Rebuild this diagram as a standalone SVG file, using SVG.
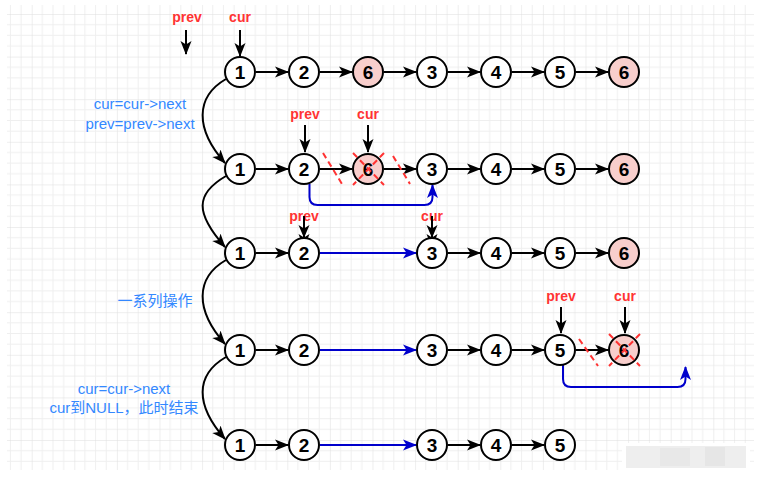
<svg xmlns="http://www.w3.org/2000/svg" width="776" height="481" viewBox="0 0 776 481">
<style>
.n circle{fill:#fff;stroke:#000;stroke-width:2}
.n.p circle{fill:#f8cecc}
.n text{font-family:"Liberation Sans",Arial,sans-serif;font-size:19px;font-weight:bold;text-anchor:middle;fill:#000}
.lbl{font-family:"Liberation Sans",Arial,sans-serif;font-size:14px;font-weight:bold;text-anchor:middle;fill:#ff3333}
.note{font-family:"Liberation Sans",Arial,"Noto Sans CJK SC",sans-serif;font-size:15px;text-anchor:middle;fill:#3388ff}
.e{fill:none;stroke:#000;stroke-width:2;marker-end:url(#ah)}
.b{fill:none;stroke:#0000cc;stroke-width:2;marker-end:url(#bh)}
.x{fill:none;stroke:#ff3333;stroke-width:2;stroke-dasharray:6 4}
</style>
<defs>
<marker id="ah" markerUnits="userSpaceOnUse" markerWidth="14" markerHeight="12" viewBox="0 0 14 12" refX="13" refY="6" orient="auto">
<path d="M0,0.5 L14,6 L0,11.5 L3.5,6 Z" fill="#000"/>
</marker>
<marker id="bh" markerUnits="userSpaceOnUse" markerWidth="14" markerHeight="12" viewBox="0 0 14 12" refX="13" refY="6" orient="auto">
<path d="M0,0.5 L14,6 L0,11.5 L3.5,6 Z" fill="#0000cc"/>
</marker>
<pattern id="grid" patternUnits="userSpaceOnUse" x="-10.9" y="-28.6" width="42.6" height="42.6">
<path d="M10.65,0V42.6M21.3,0V42.6M31.95,0V42.6M0,10.65H42.6M0,21.3H42.6M0,31.95H42.6" stroke="#efefef" stroke-width="1" fill="none"/>
<path d="M0,0V42.6M0,0H42.6" stroke="#dedede" stroke-width="1" fill="none"/>
</pattern>
</defs>
<rect width="776" height="481" fill="#fff"/>
<rect x="7" y="5" width="747" height="465" fill="url(#grid)"/>
<rect x="622" y="443" width="128" height="27" fill="#fff"/>
<rect x="626" y="446" width="120" height="22" fill="#eeeeee"/>
<rect x="660" y="448" width="30" height="18" fill="#e8e8e8"/>
<rect x="705" y="447" width="20" height="19" fill="#e6e6e6"/>

<g id="labels">
<text class="lbl" x="187" y="22">prev</text>
<text class="lbl" x="240" y="22">cur</text>
<text class="lbl" x="305" y="119">prev</text>
<text class="lbl" x="368" y="119">cur</text>
<text class="lbl" x="304" y="221">prev</text>
<text class="lbl" x="432" y="221">cur</text>
<text class="lbl" x="561" y="301">prev</text>
<text class="lbl" x="625" y="301">cur</text>
<text class="note" x="140" y="109">cur=cur-&gt;next</text>
<text class="note" x="140" y="129">prev=prev-&gt;next</text>
<text class="note" x="155" y="306">一系列操作</text>
<text class="note" x="124" y="394">cur=cur-&gt;next</text>
<text class="note" x="124" y="413">cur到NULL，此时结束</text>
</g>

<g id="connectors">
<path class="e" d="M186,30V54"/>
<path class="e" d="M240,30V56"/>
<path class="e" d="M305,125V152"/>
<path class="e" d="M368,125V152"/>
<path class="e" d="M304,216V247"/>
<path d="M304,238 L298.5,225 L304,228.5 L309.5,225 Z" fill="#000"/>
<path class="e" d="M432,216V247"/>
<path d="M432,238 L426.5,225 L432,228.5 L437.5,225 Z" fill="#000"/>
<path class="e" d="M561,307V333"/>
<path class="e" d="M625,307V333"/>
<path class="e" d="M226,79 C195,97 195,129 225,163"/>
<path class="e" d="M226,176 C195,194 195,213 225,247"/>
<path class="e" d="M226,260 C195,278 195,310 225,344"/>
<path class="e" d="M226,357 C195,375 195,405 225,439"/>
<path class="e" d="M256,72H288"/>
<path class="e" d="M320,72H352"/>
<path class="e" d="M384,72H416"/>
<path class="e" d="M448,72H480"/>
<path class="e" d="M512,72H544"/>
<path class="e" d="M576,72H608"/>
<path class="e" d="M256,169H288"/>
<path class="e" d="M320,169H352"/>
<path class="e" d="M384,169H416"/>
<path class="e" d="M448,169H480"/>
<path class="e" d="M512,169H544"/>
<path class="e" d="M576,169H608"/>
<path class="b" d="M309.5,184V197 Q309.5,205 317.5,205 H424.5 Q432.5,205 432.5,197 V185"/>
<path class="e" d="M256,253H288"/>
<path class="b" d="M320,253H416"/>
<path class="e" d="M448,253H480"/>
<path class="e" d="M512,253H544"/>
<path class="e" d="M576,253H608"/>
<path class="e" d="M256,350H288"/>
<path class="b" d="M320,350H416"/>
<path class="e" d="M448,350H480"/>
<path class="e" d="M512,350H544"/>
<path class="e" d="M576,350H608"/>
<path class="b" d="M563,365V379 Q563,387 571,387 H677.5 Q685.5,387 685.5,379 V367"/>
<path class="e" d="M256,445H288"/>
<path class="b" d="M320,445H416"/>
<path class="e" d="M448,445H480"/>
<path class="e" d="M512,445H544"/>
</g>

<g id="row1">
<g id="r1n1" class="n"><circle cx="240" cy="72" r="15"/><text x="240" y="79">1</text></g>
<g id="r1n2" class="n"><circle cx="304" cy="72" r="15"/><text x="304" y="79">2</text></g>
<g id="r1n6a" class="n p"><circle cx="368" cy="72" r="15"/><text x="368" y="79">6</text></g>
<g id="r1n3" class="n"><circle cx="432" cy="72" r="15"/><text x="432" y="79">3</text></g>
<g id="r1n4" class="n"><circle cx="496" cy="72" r="15"/><text x="496" y="79">4</text></g>
<g id="r1n5" class="n"><circle cx="560" cy="72" r="15"/><text x="560" y="79">5</text></g>
<g id="r1n6b" class="n p"><circle cx="624" cy="72" r="15"/><text x="624" y="79">6</text></g>
</g>
<g id="row2">
<g id="r2n1" class="n"><circle cx="240" cy="169" r="15"/><text x="240" y="176">1</text></g>
<g id="r2n2" class="n"><circle cx="304" cy="169" r="15"/><text x="304" y="176">2</text></g>
<g id="r2n6a" class="n p"><circle cx="368" cy="169" r="15"/><text x="368" y="176">6</text></g>
<g id="r2n3" class="n"><circle cx="432" cy="169" r="15"/><text x="432" y="176">3</text></g>
<g id="r2n4" class="n"><circle cx="496" cy="169" r="15"/><text x="496" y="176">4</text></g>
<g id="r2n5" class="n"><circle cx="560" cy="169" r="15"/><text x="560" y="176">5</text></g>
<g id="r2n6b" class="n p"><circle cx="624" cy="169" r="15"/><text x="624" y="176">6</text></g>
</g>
<g id="row3">
<g id="r3n1" class="n"><circle cx="240" cy="253" r="15"/><text x="240" y="260">1</text></g>
<g id="r3n2" class="n"><circle cx="304" cy="253" r="15"/><text x="304" y="260">2</text></g>
<g id="r3n3" class="n"><circle cx="432" cy="253" r="15"/><text x="432" y="260">3</text></g>
<g id="r3n4" class="n"><circle cx="496" cy="253" r="15"/><text x="496" y="260">4</text></g>
<g id="r3n5" class="n"><circle cx="560" cy="253" r="15"/><text x="560" y="260">5</text></g>
<g id="r3n6" class="n p"><circle cx="624" cy="253" r="15"/><text x="624" y="260">6</text></g>
</g>
<g id="row4">
<g id="r4n1" class="n"><circle cx="240" cy="350" r="15"/><text x="240" y="357">1</text></g>
<g id="r4n2" class="n"><circle cx="304" cy="350" r="15"/><text x="304" y="357">2</text></g>
<g id="r4n3" class="n"><circle cx="432" cy="350" r="15"/><text x="432" y="357">3</text></g>
<g id="r4n4" class="n"><circle cx="496" cy="350" r="15"/><text x="496" y="357">4</text></g>
<g id="r4n5" class="n"><circle cx="560" cy="350" r="15"/><text x="560" y="357">5</text></g>
<g id="r4n6" class="n p"><circle cx="624" cy="350" r="15"/><text x="624" y="357">6</text></g>
</g>
<g id="row5">
<g id="r5n1" class="n"><circle cx="240" cy="445" r="15"/><text x="240" y="452">1</text></g>
<g id="r5n2" class="n"><circle cx="304" cy="445" r="15"/><text x="304" y="452">2</text></g>
<g id="r5n3" class="n"><circle cx="432" cy="445" r="15"/><text x="432" y="452">3</text></g>
<g id="r5n4" class="n"><circle cx="496" cy="445" r="15"/><text x="496" y="452">4</text></g>
<g id="r5n5" class="n"><circle cx="560" cy="445" r="15"/><text x="560" y="452">5</text></g>
</g>

<g id="cross-marks">
<path class="x" d="M323,153L342,184"/>
<path class="x" d="M393,156L410,184"/>
<path class="x" d="M353,153L384,185M384,153L353,185"/>
<path class="x" d="M579,339L598,366"/>
<path class="x" d="M609,334L640,366M640,334L609,366"/>
</g>
</svg>
